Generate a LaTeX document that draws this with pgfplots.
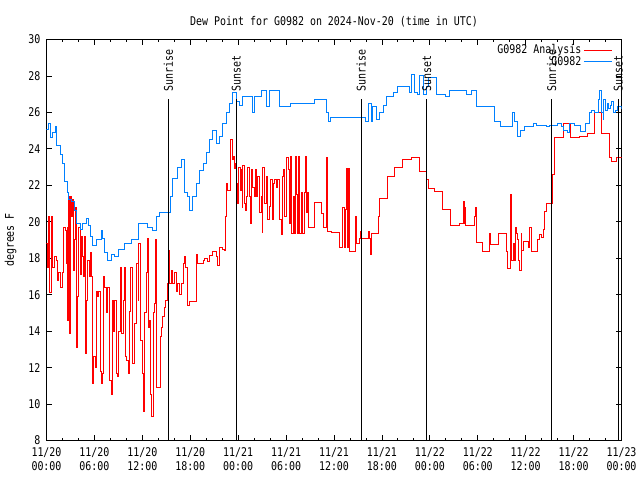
\documentclass[border=0pt]{standalone}
\usepackage{pgfplots}
\pgfplotsset{compat=1.18}
\usepackage{fontspec}
\setmainfont{DejaVu Sans Mono}[FakeStretch=0.83]
\newcommand\gpfont{\fontsize{12bp}{14.6bp}\selectfont}
\definecolor{gpblue}{RGB}{0,128,255}
\definecolor{gpred}{RGB}{255,0,0}
\begin{document}
\begin{tikzpicture}
\begin{axis}[
  name=ax,
  scale only axis,
  width=575bp, height=401bp,
  xmin=0, xmax=72, ymin=8, ymax=30,
  xtick={0,6,...,72},
  xticklabels={{11/20\\00:00},{11/20\\06:00},{11/20\\12:00},{11/20\\18:00},{11/21\\00:00},{11/21\\06:00},{11/21\\12:00},{11/21\\18:00},{11/22\\00:00},{11/22\\06:00},{11/22\\12:00},{11/22\\18:00},{11/23\\00:00}},
  minor x tick num=2,
  ytick={8,10,...,30},
  major tick length=6bp, minor tick length=3bp,
  tick style={black, line width=0.8bp},
  axis line style={black, line width=0.8bp},
  /pgf/number format/assume math mode=true,
  tick label style={font=\gpfont},
  xticklabel style={align=center, inner sep=0pt, yshift=-6.5bp},
  yticklabel style={inner sep=0pt, xshift=-6bp},
  title={Dew Point for G0982 on 2024-Nov-20 (time in UTC)},
  title style={font=\gpfont, at={(axis description cs:0.5,1.03)}, anchor=center, yshift=0pt},
  ylabel={degrees F},
  ylabel style={font=\gpfont, at={(axis description cs:-0.0626,0.5)}, anchor=center, rotate=0},
  clip mode=individual,
  legend style={at={(axis description cs:1,1)}, anchor=north east, xshift=-9bp, yshift=-3bp, draw=none, fill=none, font=\gpfont, legend cell align=right, row sep=-2.6bp, inner sep=0pt},
  legend plot pos=right,
  legend image code/.code={\draw[#1] (0bp,0bp) -- (28bp,0bp);},
]
\addplot[gpred, line width=1bp, const plot] coordinates {
(0,18.8) (0.17,17.5) (0.25,20.3) (0.375,16.1) (0.58,20.3) (0.79,17.5) (1.0,18.1) (1.21,17.9) (1.33,16.8) (1.5,17.2) (1.75,16.4) (2.04,17.2) (2.17,19.7) (2.38,19.5) (2.46,17.7) (2.58,19.7) (2.67,14.6) (2.75,21.4) (2.875,13.85) (3.0,21.4) (3.17,20.3) (3.29,21.2) (3.375,17.3) (3.5,19.0) (3.625,20.8) (3.79,13.1) (3.92,15.9) (4.04,19.7) (4.21,17.1) (4.33,19.2) (4.46,18.1) (4.58,17.0) (4.75,19.2) (4.875,12.75) (5.04,15.7) (5.17,17.9) (5.375,17.0) (5.5,18.3) (5.625,17.0) (5.79,11.1) (5.92,12.6) (6.08,12.0) (6.21,16.2) (6.33,15.9) (6.5,16.2) (6.71,11.8) (6.83,11.1) (7.04,11.65) (7.17,17.0) (7.29,16.4) (7.46,15.0) (7.67,16.4) (7.875,11.3) (8.08,10.55) (8.21,15.7) (8.375,14.0) (8.5,15.7) (8.71,11.65) (8.83,11.5) (9.0,14.0) (9.25,17.5) (9.42,13.85) (9.58,15.7) (9.75,17.5) (9.875,12.6) (10.04,12.4) (10.25,11.65) (10.42,15.1) (10.58,17.5) (10.71,14.8) (10.83,12.2) (11.0,14.4) (11.21,17.2) (11.33,17.7) (11.46,15.7) (11.58,18.8) (11.71,14.2) (11.83,13.5) (12.04,11.65) (12.17,9.6) (12.33,15.0) (12.5,17.2) (12.67,19.1) (12.79,14.2) (12.92,14.6) (13.08,10.55) (13.21,9.3) (13.375,15.0) (13.5,15.5) (13.625,19.0) (13.75,10.9) (14.25,13.7) (14.42,14.2) (14.58,14.8) (14.75,15.3) (14.96,15.7) (15.17,16.6)
(15.25,18.4) (15.4,16.6) (15.6,17.35) (15.8,16.6) (16.0,17.2) (16.25,16.2) (16.45,16.6) (16.65,16.0) (16.9,16.6) (17.1,17.7) (17.3,18.1) (17.4,17.5) (17.6,17.0) (17.7,15.4) (17.9,15.6) (18.75,18.2) (18.95,17.7) (19.6,17.9) (19.8,18.0) (20.2,17.8) (20.4,18.15) (20.8,18.35) (21.25,18.1) (21.45,17.6) (21.65,18.6) (22.1,18.5) (22.3,18.4) (22.4,20.3) (22.5,21.6) (22.6,22.1) (22.7,21.7) (23.1,24.5) (23.25,23.8) (23.3,23.4) (23.45,23.6) (23.55,22.9) (23.65,23.2) (23.75,22.1) (23.9,21.0) (24.0,22.1) (24.1,23.0) (24.25,21.7) (24.4,22.85) (24.5,20.8) (24.6,23.1) (24.8,21.0) (24.9,20.6) (25.1,21.4) (25.2,23.0) (25.4,21.4) (25.55,19.9) (25.65,22.85) (25.85,21.9) (26.05,21.4) (26.15,22.85) (26.3,21.4) (26.45,22.5) (26.65,20.5) (26.9,21.4) (27.0,19.4) (27.1,23.0) (27.3,21.0) (27.5,22.5) (27.7,20.1) (27.9,20.85) (28.1,22.3) (28.3,20.1) (28.4,22.1) (28.55,22.3) (28.75,21.9) (28.95,22.3) (29.15,20.1) (29.4,19.3) (29.5,22.5) (29.65,22.85) (29.8,20.3) (30.0,23.5)
(30.25,22.85) (30.46,19.9) (30.58,23.6) (30.67,19.35) (30.875,21.4) (31.08,19.35) (31.17,23.6) (31.29,21.5) (31.42,19.35) (31.58,23.6) (31.71,19.35) (31.92,21.6) (32.1,19.35) (32.25,21.6) (32.42,23.6) (32.54,20.5) (32.67,21.6) (32.83,19.7) (33.58,21.05) (34.42,20.45) (34.625,19.7) (35.04,23.5) (35.17,19.45) (35.67,19.4) (36.7,18.6) (37.1,20.8) (37.33,18.6) (37.46,20.7) (37.58,22.9) (37.67,18.6) (37.79,22.9) (37.92,18.35) (38.7,20.3) (38.79,18.8) (39.2,19.1) (39.33,19.45) (39.5,19.1) (40.33,19.45) (40.46,19.1) (40.54,18.2) (40.67,19.35) (41.58,20.3) (41.7,21.3) (42.75,22.5) (43.58,23.0) (44.6,23.4) (45.67,23.5)
(46.67,22.75) (47.58,22.3) (47.8,21.8) (48.6,21.65) (49.6,20.65) (50.6,19.8) (51.67,19.9) (52.17,21.1) (52.3,19.9) (52.4,20.8) (52.5,19.8) (53.6,20.3) (53.75,20.8) (53.83,18.85) (54.58,18.35) (55.5,19.35) (55.58,18.75) (56.54,19.35) (57.58,18.35) (57.7,17.45) (58.125,21.5) (58.25,17.9) (58.42,18.8) (58.54,17.9) (58.67,19.7) (58.83,19.35) (58.96,19.0) (59.08,17.9) (59.25,17.35) (59.42,19.35) (59.54,18.45) (59.67,18.9) (60.3,18.6) (60.42,19.0) (60.5,19.7) (60.67,18.35) (61.54,19.0) (61.75,19.3) (61.96,19.15) (62.25,19.55) (62.375,20.55) (62.58,21.0)
(63.3,22.6) (63.6,24.6) (64.7,25.4) (65.6,24.6) (66.75,24.7) (67.0,24.7) (67.8,24.85) (68.6,26.0) (69.5,24.85) (70.5,23.5) (70.7,23.3) (71.4,23.5) (72,23.5)
};
\addlegendentry{G0982 Analysis}
\addplot[gpblue, line width=1bp, const plot] coordinates {
(0,25.05) (0.25,25.4) (0.5,24.6) (0.75,24.9) (1.1,25.2) (1.3,24.2) (1.8,23.7) (2.0,23.2) (2.2,22.2) (2.6,21.6) (2.75,21.2) (3.1,21.1) (3.5,20.6) (3.7,19.9) (4.25,19.6) (4.5,19.9) (4.95,20.2) (5.25,19.8) (5.5,19.2) (5.8,18.7) (6.2,19.0) (6.9,19.5) (7.0,19.1) (7.25,18.3) (7.7,17.9) (8.1,18.2) (8.5,18.1) (9.0,18.5) (9.75,18.8) (10.7,19.0) (11.5,19.9) (12.6,19.7) (13.3,19.5) (13.8,20.3) (14.1,20.5) (15.5,21.4) (15.83,22.4) (16.46,23.0) (16.9,23.4) (17.3,21.6) (17.6,21.4) (17.9,20.6) (18.3,21.4) (18.75,22.1) (19.2,22.8) (19.6,23.2) (20.0,23.8) (20.4,24.5) (20.8,25.0) (21.25,24.3) (21.7,24.7) (22.1,25.4) (22.5,26.0) (22.9,26.5) (23.3,27.1) (23.75,26.6) (24.2,26.4) (24.6,26.9) (25.8,26.0) (26.0,26.9) (26.9,27.2) (27.5,26.3) (27.9,27.2) (29.2,26.3) (30.5,26.5) (33.6,26.7) (35.0,26.0) (35.3,25.5) (35.5,25.7) (39.9,25.5) (40.3,26.5) (40.7,25.5) (40.8,26.3) (41.3,25.6) (41.75,26.0) (42.2,26.4) (42.6,26.9) (43.4,27.1) (44.0,27.4) (45.5,27.1) (45.7,28.1) (46.1,27.1) (46.4,27.0) (46.75,28.0) (47.2,27.0) (47.6,27.4) (47.8,27.9) (48.8,27.0) (49.9,26.9) (50.5,27.2) (52.6,27.0) (53.2,27.2) (53.8,26.3) (56.1,25.5) (56.9,25.2) (58.4,26.0) (58.6,25.5) (59.0,24.7) (59.4,25.0) (59.9,25.2) (61.0,25.4) (61.3,25.3) (62.6,25.2) (63.0,25.3) (64.0,25.4) (64.5,25.2) (64.7,25.0) (65.3,24.9) (65.5,25.4) (66.1,25.3) (66.9,24.95) (67.5,25.4) (68.0,26.0) (68.2,26.1) (68.6,26.0) (69.1,26.7) (69.25,27.2) (69.5,26.0) (69.7,25.6) (69.8,26.7) (70.0,26.1) (70.2,26.5) (70.4,26.2) (70.6,26.4) (70.8,26.6) (71.0,26.0) (71.3,26.1) (71.5,26.3) (72,26.2)
};
\addlegendentry{G0982}
\addplot[black, line width=1bp, forget plot] coordinates {(15.25,8) (15.25,26.75)};
\addplot[black, line width=1bp, forget plot] coordinates {(23.75,8) (23.75,26.75)};
\addplot[black, line width=1bp, forget plot] coordinates {(39.4,8) (39.4,26.75)};
\addplot[black, line width=1bp, forget plot] coordinates {(47.6,8) (47.6,26.75)};
\addplot[black, line width=1bp, forget plot] coordinates {(63.25,8) (63.25,26.75)};
\addplot[black, line width=1bp, forget plot] coordinates {(71.6,8) (71.6,26.75)};
\node[rotate=90, anchor=west, font=\gpfont, inner sep=0pt, xshift=1bp] at (axis cs:15.25,27.1) {Sunrise};
\node[rotate=90, anchor=west, font=\gpfont, inner sep=0pt, xshift=1bp] at (axis cs:23.75,27.1) {Sunset};
\node[rotate=90, anchor=west, font=\gpfont, inner sep=0pt, xshift=1bp] at (axis cs:39.4,27.1) {Sunrise};
\node[rotate=90, anchor=west, font=\gpfont, inner sep=0pt, xshift=1bp] at (axis cs:47.6,27.1) {Sunset};
\node[rotate=90, anchor=west, font=\gpfont, inner sep=0pt, xshift=1bp] at (axis cs:63.25,27.1) {Sunrise};
\node[rotate=90, anchor=west, font=\gpfont, inner sep=0pt, xshift=1bp] at (axis cs:71.6,27.1) {Sunset};
\end{axis}
\pgfresetboundingbox
\path[use as bounding box] ([shift={(-46.5bp,-40bp)}]ax.south west) rectangle ([shift={(18.5bp,39.5bp)}]ax.north east);
\end{tikzpicture}
\end{document}
